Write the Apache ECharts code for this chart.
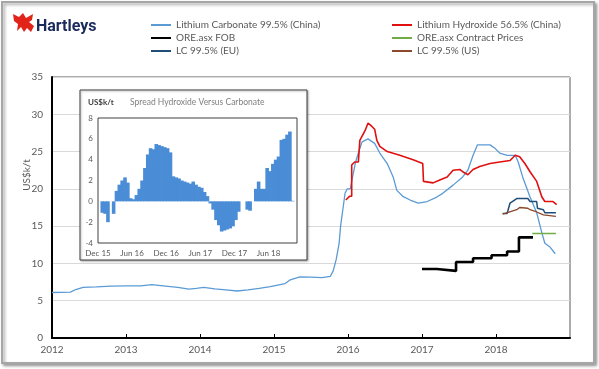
<!DOCTYPE html>
<html>
<head>
<meta charset="utf-8">
<script src="https://cdn.jsdelivr.net/npm/echarts@6/dist/echarts.min.js"></script>
<style>html,body{margin:0;padding:0;background:#fff;}#c{width:599px;height:369px;}</style>
</head>
<body>
<div id="c"></div>
<script>
// ---- main chart data (x = decimal year, y = US$k/t) ----
const yearLabels = ['2012','2013','2014','2015','2016','2017','2018'];
const carbonateChina = [[2012.00,6.1],[2012.25,6.15],[2012.32,6.5],[2012.42,6.8],[2012.6,6.85],[2012.8,6.95],[2013.0,7.0],[2013.2,7.0],[2013.35,7.15],[2013.5,7.0],[2013.7,6.8],[2013.85,6.55],[2013.95,6.65],[2014.05,6.8],[2014.2,6.6],[2014.35,6.45],[2014.5,6.3],[2014.65,6.45],[2014.8,6.65],[2014.95,6.9],[2015.05,7.1],[2015.15,7.3],[2015.22,7.8],[2015.35,8.2],[2015.5,8.15],[2015.65,8.1],[2015.76,8.25],[2015.8,9.0],[2015.84,10.5],[2015.88,12.7],[2015.9,15],[2015.93,17.2],[2015.96,19.4],[2015.99,20.0],[2016.03,20.0],[2016.06,21.5],[2016.1,23.5],[2016.14,24.8],[2016.19,26.3],[2016.27,26.7],[2016.36,26.1],[2016.43,24.8],[2016.53,23.4],[2016.61,21.6],[2016.66,19.8],[2016.74,19.0],[2016.84,18.5],[2016.95,18.1],[2017.07,18.3],[2017.2,18.9],[2017.28,19.4],[2017.42,20.5],[2017.55,21.6],[2017.62,22.5],[2017.69,24.5],[2017.75,25.9],[2017.92,25.9],[2017.99,25.4],[2018.05,24.8],[2018.15,24.5],[2018.26,24.5],[2018.3,23.6],[2018.36,21.6],[2018.46,18.9],[2018.55,16.8],[2018.62,14.1],[2018.66,12.7],[2018.73,12.2],[2018.8,11.3]];
const hydroxideChina = [[2015.97,18.5],[2016.02,19.0],[2016.05,19.0],[2016.05,23.2],[2016.09,23.6],[2016.14,23.6],[2016.16,26.5],[2016.23,27.8],[2016.27,28.8],[2016.32,28.4],[2016.36,28.0],[2016.39,26.5],[2016.43,25.7],[2016.53,25.0],[2016.7,24.5],[2016.88,23.9],[2017.01,23.4],[2017.02,21.0],[2017.15,20.8],[2017.24,21.2],[2017.34,21.6],[2017.42,22.5],[2017.51,22.6],[2017.55,22.3],[2017.62,21.9],[2017.69,22.6],[2017.78,23.0],[2017.92,23.4],[2018.05,23.6],[2018.19,23.8],[2018.26,24.5],[2018.32,24.3],[2018.39,23.4],[2018.46,22.3],[2018.55,21.0],[2018.62,18.9],[2018.66,18.3],[2018.77,18.3],[2018.82,17.9]];
const oreFob = [[2017.0,9.25],[2017.2,9.0],[2017.46,10.2],[2017.69,10.7],[2017.94,11.1],[2018.15,11.6],[2018.31,13.5],[2018.5,13.5]];
const oreContract = [[2018.49,14.0],[2018.81,14.0]];
const lcEU = [[2018.09,16.7],[2018.15,16.7],[2018.19,18.1],[2018.28,18.7],[2018.43,18.7],[2018.46,18.3],[2018.55,18.3],[2018.56,17.4],[2018.64,17.2],[2018.66,16.8],[2018.81,16.8]];
const lcUS = [[2018.09,16.6],[2018.28,17.2],[2018.32,17.5],[2018.43,17.4],[2018.46,17.2],[2018.55,16.9],[2018.64,16.5],[2018.81,16.3]];

// ---- inset data: spread, half-month buckets starting Dec 2015 ----
const insetLabels = ['Dec 15','Jun 16','Dec 16','Jun 17','Dec 17','Jun 18'];
const spread = [0,-1.1,-1.2,-2.0,0,-1.2,1.0,1.6,2.0,2.3,1.8,0.3,0.2,0.6,1.2,2.0,3.2,4.5,5.1,5.0,5.5,5.4,5.3,5.2,5.1,4.7,2.4,2.3,2.2,2.0,1.9,1.8,1.7,1.9,1.6,1.4,1.3,0.9,0.5,-0.2,-0.8,-1.8,-2.3,-2.9,-2.8,-2.7,-2.6,-2.4,-1.8,-1.0,0,0,-0.8,-0.9,0,1.2,1.9,1.2,1.2,3.2,2.9,3.6,4.0,4.3,5.9,6.0,6.4,6.7,0.05,0];

const FONT = 'Lato, "Open Sans", sans-serif';
const GREY = '#595959';
const chart = echarts.init(document.getElementById('c'), null, {renderer:'canvas'});

const lineS = (name, data, color, width, extra) => Object.assign({
  name, type:'line', data, xAxisIndex:0, yAxisIndex:0, symbol:'none',
  lineStyle:{color, width}, itemStyle:{color}, z:2, animation:false
}, extra || {});

const legendBase = {
  top:15, orient:'vertical', itemGap:3, itemWidth:20, itemHeight:10,
  itemStyle:{color:'transparent', borderWidth:0, opacity:0},
  textStyle:{fontSize:10, color:GREY, fontFamily:FONT, lineHeight:10}
};

chart.setOption({
  animation:false,
  backgroundColor:'#fff',
  textStyle:{fontFamily:FONT},
  grid:[
    {left:52, right:29, top:77, bottom:31, show:true, borderColor:'#595959', borderWidth:1, backgroundColor:'transparent'},
    {left:98, top:118, width:199, height:125, show:true, borderColor:'#404040', borderWidth:1, backgroundColor:'#fff', z:3}
  ],
  xAxis:[
    {type:'value', gridIndex:0, min:2012, max:2019, interval:1,
     axisLine:{show:true, onZero:false, lineStyle:{color:'#000', width:2}},
     axisTick:{show:true, inside:true, length:4, lineStyle:{color:'#000'}},
     splitLine:{show:false},
     axisLabel:{margin:7, fontSize:10, color:GREY, fontFamily:FONT, showMaxLabel:false,
       formatter:v => yearLabels[Math.round(v-2012)] || ''}},
    {type:'value', gridIndex:1, min:0, max:35, interval:6, z:4,
     axisLine:{show:false, onZero:false}, axisTick:{show:false}, splitLine:{show:false},
     axisLabel:{margin:6, fontSize:8, color:GREY, fontFamily:FONT, showMaxLabel:false,
       formatter:v => insetLabels[Math.round(v/6)] || ''}}
  ],
  yAxis:[
    {type:'value', gridIndex:0, min:0, max:35, interval:5,
     axisLine:{show:true, lineStyle:{color:'#000', width:2}},
     axisTick:{show:false},
     splitLine:{show:true, lineStyle:{color:'#D9D9D9', width:1}},
     axisLabel:{margin:9, fontSize:10, color:GREY, fontFamily:FONT}},
    {type:'value', gridIndex:1, min:-4, max:8, interval:2, z:4,
     axisLine:{show:false}, axisTick:{show:false}, splitLine:{show:false},
     axisLabel:{margin:5, fontSize:8, color:GREY, fontFamily:FONT}}
  ],
  legend:[
    Object.assign({left:145, data:['Lithium Carbonate 99.5% (China)','ORE.asx FOB','LC 99.5% (EU)']}, legendBase),
    Object.assign({left:386, data:['Lithium Hydroxide 56.5% (China)','ORE.asx Contract Prices','LC 99.5% (US)']}, legendBase)
  ],
  graphic:[
    {type:'rect', z:-1, silent:true, shape:{x:2, y:2, width:592, height:361},
     style:{fill:'#fff', stroke:'#A6A6A6', lineWidth:2, shadowBlur:3, shadowOffsetX:2, shadowOffsetY:2, shadowColor:'rgba(0,0,0,0.35)'}},
    {type:'rect', z:1, silent:true, shape:{x:80, y:90, width:227, height:170},
     style:{fill:'#fff', stroke:'#404040', lineWidth:1, shadowBlur:2, shadowOffsetX:1, shadowOffsetY:1, shadowColor:'rgba(0,0,0,0.3)'}},
    {type:'text', z:5, silent:true, x:88, y:102,
     style:{text:'US$k/t', fontSize:8, fill:'#404040', fontFamily:FONT, fontWeight:'bold', verticalAlign:'middle'}},
    {type:'text', z:5, silent:true, x:130, y:102,
     style:{text:'Spread Hydroxide Versus Carbonate', fontSize:8.5, fill:'#7F7F7F', fontFamily:FONT, verticalAlign:'middle'}},
    {type:'text', z:5, silent:true, x:27, y:175, rotation:Math.PI/2,
     style:{text:'US$k/t', fontSize:10, fill:GREY, fontFamily:FONT, align:'center', verticalAlign:'middle'}},
    {type:'polygon', z:5, silent:true,
     shape:{points:[[13,14],[19,17],[23,13],[26,18],[33,14],[32,20],[29,22],[34,26],[31,32],[27,28],[24,32],[21,27],[17,31],[18,24],[14,21]]},
     style:{fill:'#E2231A'}},
    {type:'text', z:5, silent:true, x:36, y:27,
     style:{text:'Hartleys', fontSize:16, fontWeight:'bold', fill:'#1B2A5C', fontFamily:'Roboto, "Open Sans", sans-serif', verticalAlign:'middle'}}
  ],
  series:[
    lineS('Lithium Carbonate 99.5% (China)', carbonateChina, '#5B9BD5', 1.3),
    lineS('Lithium Hydroxide 56.5% (China)', hydroxideChina, '#E01010', 1.6),
    lineS('ORE.asx FOB', oreFob, '#000000', 2.6, {step:'end'}),
    lineS('ORE.asx Contract Prices', oreContract, '#70AD47', 1.5),
    lineS('LC 99.5% (EU)', lcEU, '#1F4E79', 1.5),
    lineS('LC 99.5% (US)', lcUS, '#8B4A2B', 1.3),
    {name:'Spread', type:'bar', xAxisIndex:1, yAxisIndex:1, z:4, barWidth:3.6,
     itemStyle:{color:'#4A8DD6'}, animation:false,
     data: spread.map((v,i) => [i*0.5+0.25, v])}
  ]
});
</script>
</body>
</html>
